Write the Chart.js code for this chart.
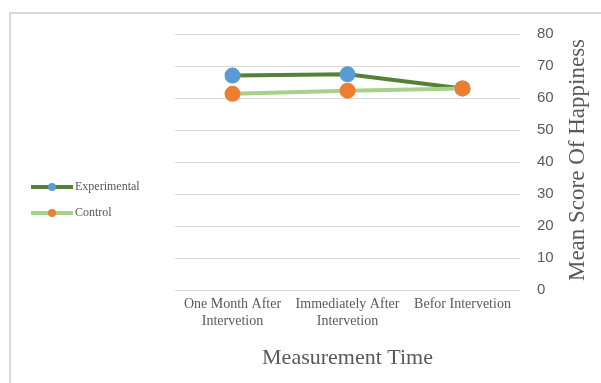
<!DOCTYPE html>
<html>
<head>
<meta charset="utf-8">
<script src="https://cdn.jsdelivr.net/npm/chart.js@4"></script>
<style>
  html, body { margin: 0; padding: 0; background: #fff; }
  #wrap { position: relative; width: 601px; height: 383px; }
</style>
</head>
<body>
<div id="wrap"><canvas id="chart" width="601" height="383"></canvas></div>
<script>
// data
const categories = [
    ['One Month After', 'Intervetion'],
    ['Immediately After', 'Intervetion'],
    ['Befor Intervetion']
];
const experimental = [67, 67.4, 63];
const control = [61.3, 62.3, 63];
const seriesNames = ['Experimental', 'Control'];
const yTicks = [0, 10, 20, 30, 40, 50, 60, 70, 80];

const darkGreen = '#548235';
const lightGreen = '#a9d18e';
const blue = '#5b9bd5';
const orange = '#ed7d31';
const textGrey = '#595959';
const serif = '"Liberation Serif", "Times New Roman", serif';

// frame, custom legend and the two axis titles
const decorations = {
    id: 'decorations',
    beforeDraw(chart) {
        const c = chart.ctx;
        c.save();
        c.strokeStyle = '#d9d9d9';
        c.lineWidth = 2;
        c.beginPath();
        c.moveTo(10, 383);
        c.lineTo(10, 13);
        c.lineTo(601, 13);
        c.stroke();
        c.restore();
    },
    afterDraw(chart) {
        const c = chart.ctx;
        const area = chart.chartArea;
        c.save();
        // legend
        const items = [
            { name: seriesNames[0], line: darkGreen, dot: blue, y: 187 },
            { name: seriesNames[1], line: lightGreen, dot: orange, y: 213 }
        ];
        items.forEach(it => {
            c.strokeStyle = it.line;
            c.lineWidth = 4;
            c.beginPath();
            c.moveTo(31, it.y);
            c.lineTo(73, it.y);
            c.stroke();
            c.fillStyle = it.dot;
            c.beginPath();
            c.arc(52, it.y, 4, 0, Math.PI * 2);
            c.fill();
            c.fillStyle = textGrey;
            c.font = '12px ' + serif;
            c.textBaseline = 'middle';
            c.textAlign = 'left';
            c.fillText(it.name, 75, it.y);
        });
        // x axis title
        c.fillStyle = textGrey;
        c.font = '22px ' + serif;
        c.textAlign = 'center';
        c.textBaseline = 'alphabetic';
        c.fillText('Measurement Time', (area.left + area.right) / 2, 364);
        // y axis title, reading bottom to top
        c.translate(578, 160);
        c.rotate(-Math.PI / 2);
        c.font = '23px ' + serif;
        c.textBaseline = 'middle';
        c.fillText('Mean Score Of Happiness', 0, 0);
        c.restore();
    }
};

const ctx = document.getElementById('chart').getContext('2d');

const config = {
    type: 'line',
    data: {
        labels: categories,
        datasets: [
            {
                label: seriesNames[0],
                data: experimental,
                borderColor: darkGreen,
                backgroundColor: blue,
                pointBackgroundColor: blue,
                pointBorderColor: blue,
                borderWidth: 4,
                pointRadius: 6,
                tension: 0,
                order: 1
            },
            {
                label: seriesNames[1],
                data: control,
                borderColor: lightGreen,
                backgroundColor: orange,
                pointBackgroundColor: orange,
                pointBorderColor: orange,
                borderWidth: 4,
                pointRadius: 6,
                tension: 0,
                order: 0
            }
        ]
    },
    options: {
        responsive: false,
        animation: false,
        layout: { padding: { left: 175, right: 31, top: 34, bottom: 33 } },
        plugins: {
            legend: { display: false },
            tooltip: { enabled: false }
        },
        scales: {
            x: {
                offset: true,
                grid: { display: false, drawTicks: false },
                border: { display: false },
                ticks: {
                    color: textGrey,
                    padding: 6,
                    maxRotation: 0,
                    autoSkip: false,
                    font: { family: serif, size: 14, lineHeight: 1.2 }
                },
                afterFit(scale) { scale.height = 60; }
            },
            y: {
                position: 'right',
                min: 0,
                max: 80,
                afterBuildTicks(scale) { scale.ticks = yTicks.map(v => ({ value: v })); },
                grid: { color: '#d9d9d9', lineWidth: 1, drawTicks: false },
                border: { display: false },
                ticks: {
                    color: textGrey,
                    padding: 17,
                    font: { family: '"Liberation Sans", Arial, sans-serif', size: 15 }
                },
                afterFit(scale) { scale.width = 50; }
            }
        }
    },
    plugins: [decorations]
};

const myChart = new Chart(ctx, config);
</script>
</body>
</html>
